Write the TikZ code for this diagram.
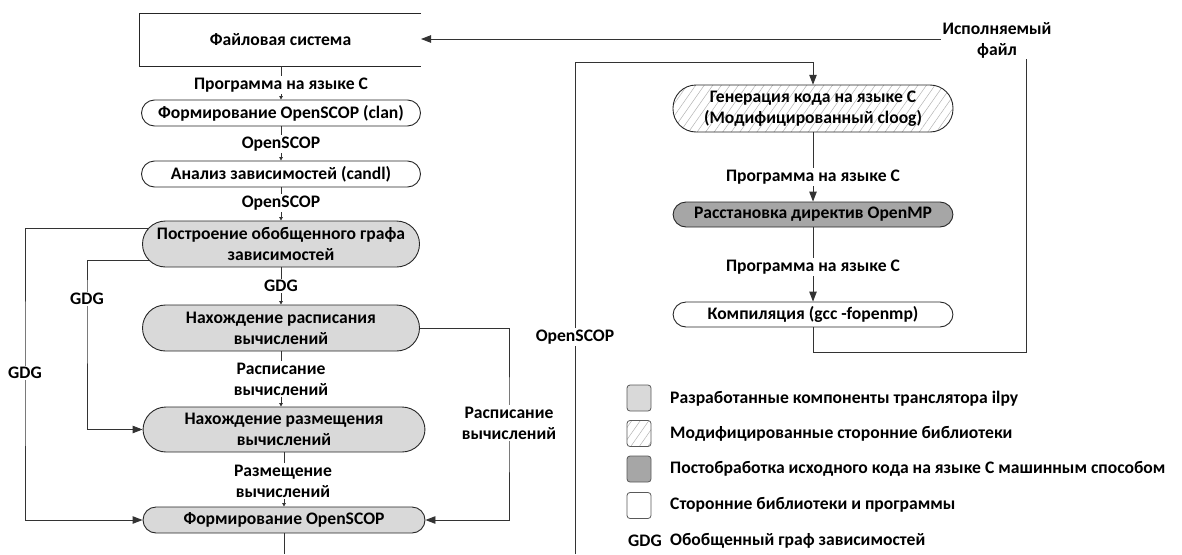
\documentclass[tikz,border=0pt]{standalone}
\usepackage{fontspec}
\setmainfont{Carlito}
\usetikzlibrary{arrows.meta,calc,patterns.meta}
\begin{document}
\begin{tikzpicture}[x=1pt,y=-1pt,
  txt/.style={font=\fontsize{17.6}{21}\selectfont\bfseries, align=center},
  pbox/.style={txt, draw=black!85, line width=0.9pt, inner sep=0pt},
  short/.style={pbox, minimum height=26pt, rounded corners=13pt},
  tall/.style={pbox, minimum height=46pt, rounded corners=23pt},
  dev/.style={fill=gray!30},
  post/.style={fill=gray!70},
  hatch/.style={pattern={Lines[angle=55,distance=7pt,line width=0.5pt]}, pattern color=black!30},
  lbl/.style={txt, fill=white, inner sep=1.5pt},
  conn/.style={draw=black!80, line width=0.9pt},
  small/.style={conn, -{Triangle[length=3.5pt,width=3.5pt]}},
  big/.style={conn, -{Triangle[length=10pt,width=7.5pt]}},
  legsq/.style={draw=black!65, line width=0.8pt, minimum width=24pt, minimum height=26pt, rounded corners=3pt, inner sep=0pt},
  legtxt/.style={txt, anchor=west, inner sep=0pt}
]
\useasboundingbox (0,0) rectangle (1182,554);

% left column
\node[txt, minimum width=281pt, minimum height=52pt, inner sep=0pt] (fs) at (280.5,40) {Файловая система};
\draw[black!85, line width=0.9pt] (fs.north east) -- (fs.north west) -- (fs.south west) -- (fs.south east);
\node[short, minimum width=279pt] (clan) at (281,113) {Формирование OpenSCOP (clan)};
\node[short, minimum width=279pt] (candl) at (281,174) {Анализ зависимостей (candl)};
\node[tall, dev, minimum width=277pt] (gdg) at (281,244) {Построение обобщенного графа\\зависимостей};
\node[tall, dev, minimum width=277pt] (sched) at (281,328) {Нахождение расписания\\вычислений};
\node[tall, dev, minimum width=282pt, minimum height=45pt] (place) at (284,429.5) {Нахождение размещения\\вычислений};
\node[short, dev, minimum width=282pt] (form) at (284,520) {Формирование OpenSCOP};

% right column
\node[tall, hatch, minimum width=280pt, minimum height=47pt] (gen) at (813,108.5) {Генерация кода на языке C\\(Модифицированный cloog)};
\node[short, post, minimum width=280pt, minimum height=25pt] (omp) at (813,214.5) {Расстановка директив OpenMP};
\node[short, minimum width=280pt, minimum height=25pt] (gcc) at (813,314.5) {Компиляция (gcc -fopenmp)};

% coordinates
\coordinate (bot1) at (284,554);
\coordinate (bot2) at (575,554);
\coordinate (oc) at (575,62);
\coordinate (c1) at (1026,352);
\coordinate (c2) at (1026,39);
\coordinate (fsE) at (421,39);
\coordinate (rsc) at (509,425);
\coordinate (gx1) at (25,373);
\coordinate (gx2) at (87,299);

% connectors
\draw[small] (fs.south -| clan.north) -- (clan.north);
\draw[small] (clan.south) -- (candl.north);
\draw[small] (candl.south) -- (gdg.north);
\draw[small] (gdg.south) -- (sched.north);
\draw[small] (sched.south) -- (sched.south |- place.north);
\draw[small] (place.south) -- (form.north);
\draw[conn] (form.south) -- (bot1);
\draw[big] ($(gdg.west)+(6.5,-16)$) -| (gx1) |- (form.west);
\draw[big] ($(gdg.west)+(6.5,16)$) -| (gx2) |- (place.west);
\draw[big] (sched.east) -| (rsc) |- (form.east);
\draw[big] (bot2) -- (oc) -| (gen.north);
\draw[big] (gen.south) -- (omp.north);
\draw[big] (omp.south) -- (gcc.north);
\draw[big] (gcc.south) |- (c1) -- (c2) -- (fsE);

% labels
\node[lbl] (l1) at (281,85) {Программа на языке C};
\node[lbl] (l2) at (281,144) {OpenSCOP};
\node[lbl] (l3) at (281,203) {OpenSCOP};
\node[lbl] (l4) at (281,286) {GDG};
\node[lbl] (l5) at (281,379) {Расписание\\вычислений};
\node[lbl] (l6) at (283,481) {Размещение\\вычислений};
\node[lbl] (g1) at (87,299) {GDG};
\node[lbl] (g2) at (25,373) {GDG};
\node[lbl] (rs) at (509,423) {Расписание\\вычислений};
\node[lbl] (os) at (575,337) {OpenSCOP};
\node[lbl] (p1) at (813,177) {Программа на языке C};
\node[lbl] (p2) at (813,267) {Программа на языке C};
\node[lbl] (exe) at (997,40) {Исполняемый\\файл};

% legend
\node[legsq, dev] (s1) at (639,398) {};
\node[legsq, hatch] (s2) at (639,433.5) {};
\node[legsq, post] (s3) at (639,469) {};
\node[legsq] (s4) at (639,505.5) {};
\node[legtxt] (t1) at (670,399) {Разработанные компоненты транслятора ilpy};
\node[legtxt] (t2) at (670,434) {Модифицированные сторонние библиотеки};
\node[legtxt] (t3) at (670,469) {Постобработка исходного кода на языке C машинным способом};
\node[legtxt] (t4) at (670,505) {Сторонние библиотеки и программы};
\node[txt, inner sep=0pt] (t5k) at (645,541) {GDG};
\node[legtxt] (t5) at (670,541) {Обобщенный граф зависимостей};
\end{tikzpicture}
\end{document}
